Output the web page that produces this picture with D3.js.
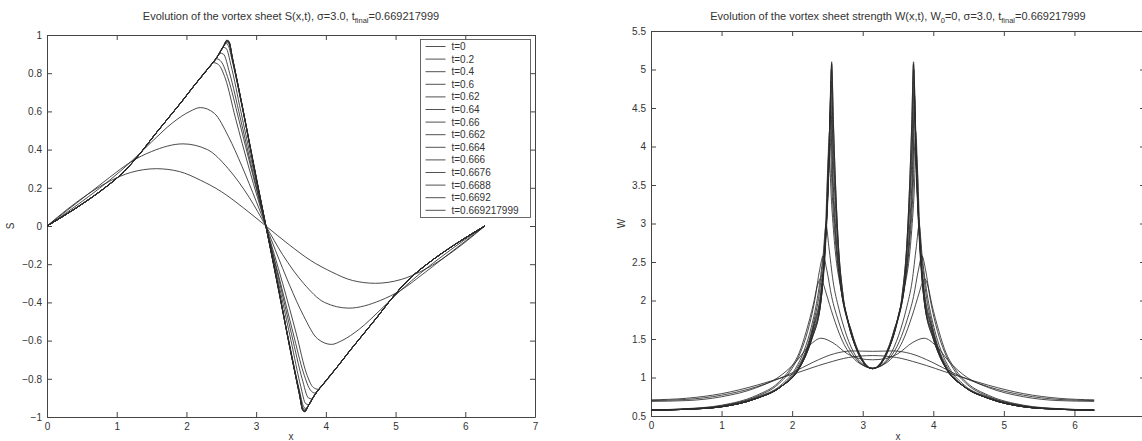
<!DOCTYPE html>
<html><head><meta charset="utf-8">
<script src="https://cdn.jsdelivr.net/npm/d3@7"></script>
<style>
body{margin:0;background:#fff}
svg{display:block}
text{font-family:"Liberation Sans",Arial,Helvetica,sans-serif;fill:#333}
</style>
</head><body>
<svg id="c" width="1142" height="441"></svg>
<script>
// ---------- tick values / labels ----------
const xTicks = [0,1,2,3,4,5,6,7];
const sTicks = [-1,-0.8,-0.6,-0.4,-0.2,0,0.2,0.4,0.6,0.8,1];
const wTicks = [0.5,1,1.5,2,2.5,3,3.5,4,4.5,5,5.5];
const timeLabels = ["t=0","t=0.2","t=0.4","t=0.6","t=0.62","t=0.64","t=0.66","t=0.662","t=0.664","t=0.666","t=0.6676","t=0.6688","t=0.6692","t=0.669217999"];

// ---------- S(x,t) ----------
const S_t0 = [[0,0],[0.3,0.09],[0.6,0.17],[0.9,0.235],[1.2,0.28],[1.57,0.3],[1.9,0.285],[2.2,0.24],[2.5,0.18],[2.8,0.1],[3.14,0],[3.48,-0.1],[3.78,-0.18],[4.08,-0.24],[4.38,-0.285],[4.71,-0.3],[5.08,-0.28],[5.38,-0.235],[5.68,-0.17],[5.98,-0.09],[6.28,0]];
const S_t02 = [[0,0],[0.3,0.085],[0.6,0.17],[0.9,0.255],[1.2,0.335],[1.5,0.39],[1.95,0.43],[2.3,0.4],[2.6,0.3],[2.9,0.15],[3.14,0],[3.38,-0.15],[3.68,-0.3],[3.98,-0.4],[4.33,-0.43],[4.78,-0.39],[5.08,-0.335],[5.38,-0.255],[5.68,-0.17],[5.98,-0.085],[6.28,0]];
const S_t04 = [[0,0],[0.3,0.075],[0.6,0.155],[0.9,0.24],[1.2,0.335],[1.5,0.44],[1.8,0.54],[2.05,0.6],[2.2,0.62],[2.4,0.59],[2.6,0.47],[2.8,0.31],[3.0,0.13],[3.14,0],[3.28,-0.13],[3.48,-0.31],[3.68,-0.47],[3.88,-0.59],[4.08,-0.62],[4.23,-0.6],[4.48,-0.54],[4.78,-0.44],[5.08,-0.335],[5.38,-0.24],[5.68,-0.155],[5.98,-0.075],[6.28,0]];
// shared rising / falling parts of the steepened sheets
const sRise = [[0,0],[0.4,0.09],[0.83,0.2],[1.0,0.25],[1.22,0.33],[1.38,0.4],[1.55,0.48],[1.93,0.65],[2.1,0.73]];
const sRiseTop = [[2.29,0.815],[2.45,0.89]];
const sFallTop = [[3.83,-0.89],[3.99,-0.815]];
const sFall = [[4.18,-0.73],[4.35,-0.65],[4.73,-0.48],[4.9,-0.4],[5.06,-0.33],[5.28,-0.25],[5.45,-0.2],[5.88,-0.09],[6.28,0]];
const S_t06 = [[2.25,0.8],[2.33,0.835],[2.39,0.855],[2.46,0.845],[2.56,0.77],[2.7,0.57],[2.9,0.3],[3.14,0],[3.38,-0.3],[3.58,-0.57],[3.72,-0.77],[3.82,-0.845],[3.89,-0.855],[3.95,-0.835],[4.03,-0.8]];
const S_t062 = [[2.29,0.815],[2.38,0.855],[2.435,0.875],[2.5,0.86],[2.6,0.77],[2.75,0.56],[2.95,0.27],[3.14,0],[3.33,-0.27],[3.53,-0.56],[3.68,-0.77],[3.78,-0.86],[3.845,-0.875],[3.9,-0.855],[3.99,-0.815]];
const S_t064 = [[2.29,0.815],[2.43,0.88],[2.48,0.905],[2.53,0.9],[2.62,0.8],[2.77,0.57],[2.96,0.27],[3.14,0],[3.32,-0.27],[3.51,-0.57],[3.66,-0.8],[3.75,-0.9],[3.8,-0.905],[3.85,-0.88],[3.99,-0.815]];
const S_t066 = [[2.53,0.935],[2.57,0.93],[2.64,0.84],[2.78,0.6],[2.97,0.28],[3.14,0],[3.31,-0.28],[3.5,-0.6],[3.64,-0.84],[3.71,-0.93],[3.75,-0.935]];
const S_t0662 = [[2.53,0.94],[2.57,0.955],[2.6,0.945],[2.66,0.86],[2.8,0.62],[2.98,0.29],[3.14,0],[3.3,-0.29],[3.48,-0.62],[3.62,-0.86],[3.68,-0.945],[3.71,-0.955],[3.75,-0.94]];
const S_t0664 = [[2.53,0.94],[2.575,0.96],[2.605,0.955],[2.66,0.87],[2.8,0.625],[2.99,0.275],[3.14,0],[3.29,-0.275],[3.48,-0.625],[3.62,-0.87],[3.675,-0.955],[3.705,-0.96],[3.75,-0.94]];
const S_t0666 = [[2.53,0.94],[2.578,0.965],[2.61,0.96],[2.66,0.875],[2.8,0.63],[3.0,0.26],[3.14,0],[3.28,-0.26],[3.48,-0.63],[3.62,-0.875],[3.67,-0.96],[3.702,-0.965],[3.75,-0.94]];
const S_t06676 = [[2.53,0.94],[2.58,0.968],[2.61,0.963],[2.66,0.878],[2.8,0.63],[3.0,0.255],[3.14,0],[3.28,-0.255],[3.48,-0.63],[3.62,-0.878],[3.67,-0.963],[3.7,-0.968],[3.75,-0.94]];
const S_t06688 = [[2.53,0.94],[2.58,0.97],[2.61,0.965],[2.66,0.88],[2.8,0.63],[3.0,0.25],[3.14,0],[3.28,-0.25],[3.48,-0.63],[3.62,-0.88],[3.67,-0.965],[3.7,-0.97],[3.75,-0.94]];
const S_t06692 = [[2.53,0.94],[2.58,0.972],[2.61,0.966],[2.66,0.88],[2.8,0.63],[3.0,0.25],[3.14,0],[3.28,-0.25],[3.48,-0.63],[3.62,-0.88],[3.67,-0.966],[3.7,-0.972],[3.75,-0.94]];
const S_tF = [[2.53,0.94],[2.58,0.973],[2.61,0.967],[2.66,0.88],[2.8,0.63],[3.0,0.25],[3.14,0],[3.28,-0.25],[3.48,-0.63],[3.62,-0.88],[3.67,-0.967],[3.7,-0.973],[3.75,-0.94]];

// ---------- W(x,t) ----------
const W_t0 = [[0,0.71],[0.5,0.73],[1.0,0.79],[1.5,0.9],[2.0,1.04],[2.5,1.19],[2.8,1.26],[3.14,1.285],[3.48,1.26],[3.78,1.19],[4.28,1.04],[4.78,0.9],[5.28,0.79],[5.78,0.73],[6.28,0.71]];
const W_t02 = [[0,0.7],[0.5,0.715],[1.0,0.77],[1.5,0.88],[2.0,1.06],[2.3,1.2],[2.6,1.31],[2.85,1.345],[3.14,1.34],[3.43,1.345],[3.68,1.31],[3.98,1.2],[4.28,1.06],[4.78,0.88],[5.28,0.77],[5.78,0.715],[6.28,0.7]];
const W_t04 = [[0,0.69],[0.5,0.7],[1.0,0.75],[1.5,0.87],[1.8,1.0],[2.05,1.2],[2.25,1.42],[2.41,1.51],[2.58,1.45],[2.78,1.31],[2.96,1.245],[3.14,1.23],[3.32,1.245],[3.5,1.31],[3.7,1.45],[3.87,1.51],[4.03,1.42],[4.23,1.2],[4.48,1.0],[4.78,0.87],[5.28,0.75],[5.78,0.7],[6.28,0.69]];
const W_t06 = [[0,0.58],[0.5,0.595],[1.0,0.64],[1.5,0.77],[1.8,0.93],[2.0,1.15],[2.1,1.32],[2.2,1.6],[2.3,1.95],[2.36,2.2],[2.4,2.28],[2.44,2.22],[2.48,2.1],[2.58,1.8],[2.7,1.5],[2.85,1.27],[3.0,1.16],[3.14,1.125],[3.28,1.16],[3.43,1.27],[3.58,1.5],[3.7,1.8],[3.8,2.1],[3.84,2.22],[3.88,2.28],[3.92,2.2],[3.98,1.95],[4.08,1.6],[4.18,1.32],[4.28,1.15],[4.48,0.93],[4.78,0.77],[5.28,0.64],[5.78,0.595],[6.28,0.58]];
const W_t062 = [[0,0.578],[0.5,0.592],[1.0,0.633],[1.5,0.755],[1.8,0.91],[2.0,1.12],[2.12,1.33],[2.22,1.6],[2.32,2.0],[2.39,2.4],[2.44,2.58],[2.49,2.4],[2.56,2.05],[2.65,1.75],[2.76,1.47],[2.9,1.25],[3.02,1.15],[3.14,1.12],[3.26,1.15],[3.38,1.25],[3.52,1.47],[3.63,1.75],[3.72,2.05],[3.79,2.4],[3.84,2.58],[3.89,2.4],[3.96,2.0],[4.06,1.6],[4.16,1.33],[4.28,1.12],[4.48,0.91],[4.78,0.755],[5.28,0.633],[5.78,0.592],[6.28,0.578]];
const W_t064 = [[0,0.577],[0.5,0.59],[1.0,0.628],[1.5,0.745],[1.84,0.9],[2.05,1.12],[2.17,1.35],[2.27,1.65],[2.37,2.1],[2.44,2.6],[2.48,2.98],[2.52,2.7],[2.58,2.25],[2.66,1.9],[2.77,1.55],[2.9,1.28],[3.02,1.16],[3.14,1.118],[3.26,1.16],[3.38,1.28],[3.51,1.55],[3.62,1.9],[3.7,2.25],[3.76,2.7],[3.8,2.98],[3.84,2.6],[3.91,2.1],[4.01,1.65],[4.11,1.35],[4.23,1.12],[4.44,0.9],[4.78,0.745],[5.28,0.628],[5.78,0.59],[6.28,0.577]];
const wHead = [[0,0.575],[0.5,0.587],[1.0,0.62],[1.5,0.73],[1.84,0.88]];
const wTail = [[4.44,0.88],[4.78,0.73],[5.28,0.62],[5.78,0.587],[6.28,0.575]];
const W_t066 = [[2.07,1.12],[2.2,1.37],[2.3,1.7],[2.4,2.2],[2.47,2.9],[2.52,3.9],[2.56,3.25],[2.61,2.65],[2.69,2.15],[2.8,1.7],[2.92,1.34],[3.03,1.17],[3.14,1.116],[3.25,1.17],[3.36,1.34],[3.48,1.7],[3.59,2.15],[3.67,2.65],[3.72,3.25],[3.76,3.9],[3.81,2.9],[3.88,2.2],[3.98,1.7],[4.08,1.37],[4.21,1.12]];
const W_t0662 = [[2.08,1.11],[2.21,1.37],[2.31,1.7],[2.41,2.15],[2.48,2.95],[2.53,4.2],[2.57,3.35],[2.62,2.7],[2.7,2.12],[2.81,1.67],[2.94,1.31],[3.04,1.16],[3.14,1.115],[3.24,1.16],[3.34,1.31],[3.47,1.67],[3.58,2.12],[3.66,2.7],[3.71,3.35],[3.75,4.2],[3.8,2.95],[3.87,2.15],[3.97,1.7],[4.07,1.37],[4.2,1.11]];
const W_t0664 = [[2.08,1.1],[2.21,1.36],[2.31,1.68],[2.41,2.1],[2.48,2.9],[2.515,3.6],[2.54,4.45],[2.575,3.5],[2.615,2.85],[2.69,2.17],[2.81,1.65],[2.95,1.3],[3.04,1.16],[3.14,1.115],[3.24,1.16],[3.33,1.3],[3.47,1.65],[3.59,2.17],[3.665,2.85],[3.705,3.5],[3.74,4.45],[3.765,3.6],[3.8,2.9],[3.87,2.1],[3.97,1.68],[4.07,1.36],[4.2,1.1]];
const W_t0666 = [[2.08,1.095],[2.21,1.35],[2.31,1.66],[2.41,2.06],[2.47,2.75],[2.52,3.8],[2.545,4.65],[2.575,3.7],[2.613,3.0],[2.68,2.25],[2.79,1.72],[2.95,1.3],[3.04,1.16],[3.14,1.115],[3.24,1.16],[3.33,1.3],[3.49,1.72],[3.6,2.25],[3.667,3.0],[3.705,3.7],[3.735,4.65],[3.76,3.8],[3.81,2.75],[3.87,2.06],[3.97,1.66],[4.07,1.35],[4.2,1.095]];
const W_t06676 = [[2.08,1.09],[2.21,1.34],[2.31,1.62],[2.41,2.03],[2.47,2.7],[2.525,3.9],[2.55,4.85],[2.58,3.9],[2.615,3.2],[2.68,2.3],[2.79,1.75],[2.96,1.28],[3.04,1.16],[3.14,1.115],[3.24,1.16],[3.32,1.28],[3.49,1.75],[3.6,2.3],[3.665,3.2],[3.7,3.9],[3.73,4.85],[3.755,3.9],[3.81,2.7],[3.87,2.03],[3.97,1.62],[4.07,1.34],[4.2,1.09]];
const W_t06688 = [[2.08,1.09],[2.2,1.3],[2.3,1.58],[2.41,2.01],[2.47,2.65],[2.53,4.0],[2.555,5.0],[2.582,4.05],[2.617,3.3],[2.68,2.35],[2.78,1.78],[2.96,1.28],[3.04,1.16],[3.14,1.115],[3.24,1.16],[3.32,1.28],[3.5,1.78],[3.6,2.35],[3.663,3.3],[3.698,4.05],[3.725,5.0],[3.75,4.0],[3.81,2.65],[3.87,2.01],[3.98,1.58],[4.08,1.3],[4.2,1.09]];
const W_t06692 = [[2.08,1.09],[2.2,1.3],[2.28,1.5],[2.41,2.0],[2.46,2.6],[2.535,4.2],[2.56,5.07],[2.585,4.3],[2.617,3.46],[2.65,2.81],[2.72,2.08],[2.84,1.6],[2.98,1.26],[3.14,1.115],[3.3,1.26],[3.44,1.6],[3.56,2.08],[3.63,2.81],[3.663,3.46],[3.695,4.3],[3.72,5.07],[3.745,4.2],[3.82,2.6],[3.87,2.0],[4.0,1.5],[4.08,1.3],[4.2,1.09]];
const W_tF = [[2.08,1.09],[2.2,1.3],[2.28,1.5],[2.41,2.0],[2.46,2.6],[2.5,3.3],[2.535,4.2],[2.56,5.1],[2.585,4.3],[2.617,3.46],[2.65,2.81],[2.72,2.08],[2.84,1.6],[2.98,1.26],[3.14,1.115],[3.3,1.26],[3.44,1.6],[3.56,2.08],[3.63,2.81],[3.663,3.46],[3.695,4.3],[3.72,5.1],[3.745,4.2],[3.78,3.3],[3.82,2.6],[3.87,2.0],[4.0,1.5],[4.08,1.3],[4.2,1.09]];

const sSeries = [
  S_t0, S_t02, S_t04,
  [].concat(sRise, S_t06, sFall),
  [].concat(sRise, S_t062, sFall),
  [].concat(sRise, S_t064, sFall),
  [].concat(sRise, sRiseTop, S_t066, sFallTop, sFall),
  [].concat(sRise, sRiseTop, S_t0662, sFallTop, sFall),
  [].concat(sRise, sRiseTop, S_t0664, sFallTop, sFall),
  [].concat(sRise, sRiseTop, S_t0666, sFallTop, sFall),
  [].concat(sRise, sRiseTop, S_t06676, sFallTop, sFall),
  [].concat(sRise, sRiseTop, S_t06688, sFallTop, sFall),
  [].concat(sRise, sRiseTop, S_t06692, sFallTop, sFall),
  [].concat(sRise, sRiseTop, S_tF, sFallTop, sFall)
];
const wSeries = [
  W_t0, W_t02, W_t04, W_t06, W_t062, W_t064,
  [].concat(wHead, W_t066, wTail),
  [].concat(wHead, W_t0662, wTail),
  [].concat(wHead, W_t0664, wTail),
  [].concat(wHead, W_t0666, wTail),
  [].concat(wHead, W_t06676, wTail),
  [].concat(wHead, W_t06688, wTail),
  [].concat(wHead, W_t06692, wTail),
  [].concat(wHead, W_tF, wTail)
];

// ---------- drawing ----------
const svg = d3.select("#c");
const FONT = 10;
const fmtS = d => d === 0 ? "0" : (d < 0 ? "\u2212" : "") + String(Math.abs(d));
const fmtW = d => String(d);

function panel(o) {
  const g = svg.append("g");
  const x = d3.scaleLinear().domain([0,7]).range(o.xr);
  const y = d3.scaleLinear().domain(o.yd).range(o.yr);
  const tk = 5;
  const ax = (gen, tr) => g.append("g").attr("transform", tr).call(gen)
      .call(s => { s.selectAll("path.domain").attr("stroke","#444").attr("stroke-width",1);
                   s.selectAll(".tick line").attr("stroke","#444");
                   s.selectAll("text").attr("font-size",FONT).attr("fill","#333").attr("font-family",'"Liberation Sans",Arial,sans-serif'); });
  ax(d3.axisBottom(x).tickValues(xTicks).tickSize(-tk).tickSizeOuter(0).tickPadding(6).tickFormat(d3.format("d")), `translate(0,${o.yr[0]})`);
  ax(d3.axisTop(x).tickValues(xTicks).tickSize(-tk).tickSizeOuter(0).tickFormat(""), `translate(0,${o.yr[1]})`);
  ax(d3.axisLeft(y).tickValues(o.yt).tickSize(-tk).tickSizeOuter(0).tickPadding(5).tickFormat(o.fmt), `translate(${o.xr[0]},0)`);
  ax(d3.axisRight(y).tickValues(o.yt).tickSize(-tk).tickSizeOuter(0).tickFormat(""), `translate(${o.xr[1]},0)`);

  const line = d3.line().x(d => x(d[0])).y(d => y(d[1])).curve(d3.curveMonotoneX);
  g.append("g").selectAll("path").data(o.series).join("path")
    .attr("d", line).attr("fill","none").attr("stroke","#2a2a2a").attr("stroke-width",0.85)
    .attr("stroke-linejoin","round");

  // title
  const cx = (o.xr[0] + o.xr[1]) / 2;
  const t = g.append("text").attr("x", cx).attr("y", 20).attr("text-anchor","middle").attr("font-size",11);
  o.title.forEach(p => {
    const ts = t.append("tspan").text(p[0]);
    if (p[1] === "sub") ts.attr("font-size",7.5).attr("dy",3);
    if (p[1] === "up") ts.attr("dy",-3);
  });
  // axis labels
  g.append("text").attr("x", cx).attr("y", 440).attr("text-anchor","middle").attr("font-size",FONT).text("x");
  g.append("text").attr("transform", `translate(${o.ylx},${(o.yr[0]+o.yr[1])/2}) rotate(-90)`)
    .attr("text-anchor","middle").attr("font-size",FONT).text(o.ylabel);
  return {g, x, y};
}

panel({xr:[47,535], yd:[-1,1], yr:[417,35], yt:sTicks, fmt:fmtS, series:sSeries, ylabel:"S", ylx:14,
  title:[["Evolution of the vortex sheet S(x,t), \u03c3=3.0, t"],["final","sub"],["=0.669217999","up"]]});
panel({xr:[651,1145], yd:[0.5,5.5], yr:[416,31], yt:wTicks, fmt:fmtW, series:wSeries, ylabel:"W", ylx:625,
  title:[["Evolution of the vortex sheet strength W(x,t), W"],["0","sub"],["=0, \u03c3=3.0, t","up"],["final","sub"],["=0.669217999","up"]]});

// legend
const lg = svg.append("g");
const lx = 420.5, ly = 39.5, rowH = 12.6;
lg.append("rect").attr("x",lx).attr("y",ly).attr("width",110).attr("height",178)
  .attr("fill","#fff").attr("stroke","#444").attr("stroke-width",0.8);
timeLabels.forEach((lab,i) => {
  const yy = ly + 7 + i*rowH;
  lg.append("line").attr("x1",lx+5).attr("x2",lx+25).attr("y1",yy).attr("y2",yy).attr("stroke","#333").attr("stroke-width",0.85);
  lg.append("text").attr("x",lx+31).attr("y",yy).attr("dy","0.35em").attr("font-size",FONT).text(lab);
});
</script>
</body></html>
